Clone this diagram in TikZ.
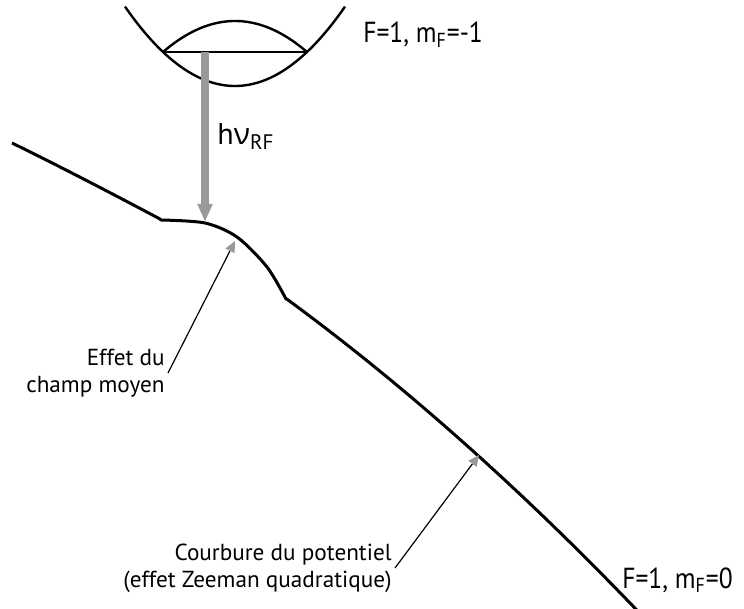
\documentclass[tikz,border=0pt]{standalone}
\usepackage{fontspec}
\setmainfont{PT Sans}
\newfontfamily\grec{Open Sans}
\newfontfamily\etroit[FakeStretch=0.88]{PT Sans}
\usetikzlibrary{arrows.meta}
\definecolor{gris}{RGB}{153,153,156}

\begin{document}
\begin{tikzpicture}[x=0.5pt,y=-0.5pt,
		courbe/.style={line width=1.5pt,line join=round},
		piege/.style={line width=1.2pt},
		fleche/.style={line width=0.6pt,-{Triangle[length=5.5pt,width=5pt,color=gris]}},
		grand/.style={font=\fontsize{15}{18}\selectfont,inner sep=0pt},
		niveau/.style={font=\etroit\fontsize{14.5}{18}\selectfont,inner sep=0pt},
		petit/.style={font=\fontsize{11.6}{13.5}\selectfont,align=right,inner sep=1.5pt}]
	\useasboundingbox (0,0) rectangle (744,609);

	% piege de l'etat F=1, mF=-1
	\draw[piege] plot[domain=125:345,samples=60] (\x,{86-0.00656*(\x-235)^2});
	\draw[piege] plot[domain=163:307,samples=40] (\x,{21+0.00598*(\x-235)^2});
	\draw[piege] (163,52) -- (307,52);

	% potentiel de l'etat F=1, mF=0
	\draw[courbe] (12,143) .. controls (61,167) and (111,193) .. (160,219)
		-- plot[smooth] coordinates {(161,220) (205,223) (237,237) (267,267) (286,299)}
		-- plot[domain=287:640,samples=60] (\x,{125+0.48*\x+0.00044*\x*\x});

	% transition RF
	\coordinate (haut) at (205,52);
	\coordinate (bas) at (205,222);
	\draw[gris,line width=4.2pt,-{Triangle[length=9pt,width=7pt]}] (haut) -- (bas);
	\node (rf) [grand,anchor=base west] at (217,145) {h{\grec ν}\textsubscript{RF}};

	\node (moins) [niveau,anchor=base west] at (363,43) {F=1, m\textsubscript{F}=-1};
	\node (zero) [niveau,anchor=base west] at (622,588) {F=1, m\textsubscript{F}=0};

	% legendes
	\coordinate (bosse) at (235,241);
	\coordinate (pente) at (479,455);
	\node (champ) [petit,anchor=east] at (168,373) {Effet du\\champ moyen};
	\node (zeeman) [petit,anchor=east] at (395,568) {Courbure du potentiel\\(effet Zeeman quadratique)};
	\draw[fleche] (champ.east) -- (bosse);
	\draw[fleche] (zeeman.east) -- (pente);
\end{tikzpicture}
\end{document}
